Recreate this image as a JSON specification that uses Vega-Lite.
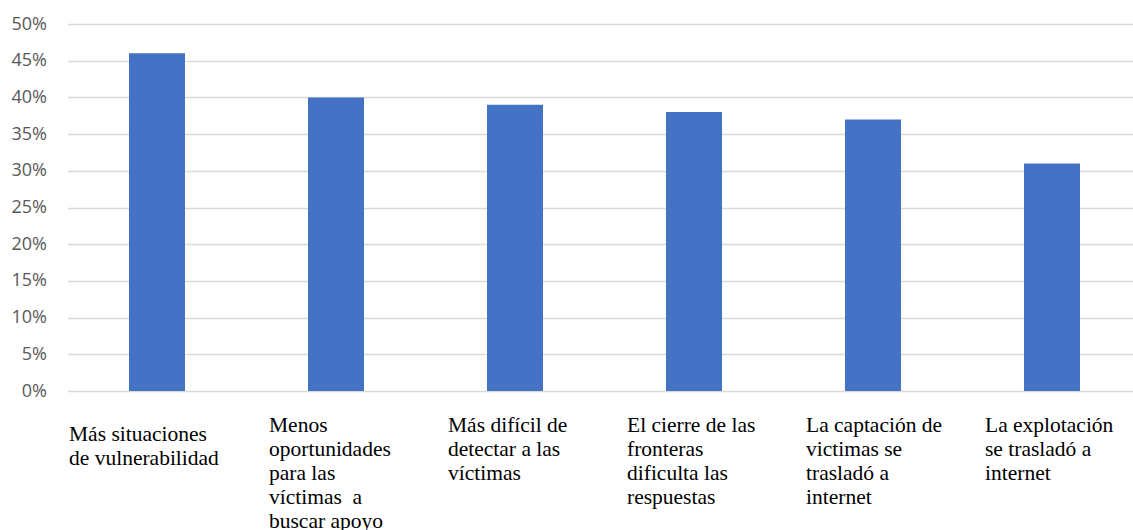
{
  "$schema": "https://vega.github.io/schema/vega-lite/v6.json",
  "autosize": "none",
  "width": 1074,
  "height": 367,
  "padding": {"left": 67.5, "top": 24, "right": 0, "bottom": 139},
  "background": "white",
  "config": {"view": {"stroke": null}},
  "data": {
    "values": [
      {"motivo": "Más situaciones\nde vulnerabilidad", "pct": 0.46},
      {"motivo": "Menos\noportunidades\npara las\nvíctimas\u00a0 a\nbuscar apoyo", "pct": 0.40},
      {"motivo": "Más difícil de\ndetectar a las\nvíctimas", "pct": 0.39},
      {"motivo": "El cierre de las\nfronteras\ndificulta las\nrespuestas", "pct": 0.38},
      {"motivo": "La captación de\nvictimas se\ntrasladó a\ninternet", "pct": 0.37},
      {"motivo": "La explotación\nse trasladó a\ninternet", "pct": 0.31}
    ]
  },
  "mark": {"type": "bar", "color": "#4472C4"},
  "encoding": {
    "x": {
      "field": "motivo",
      "type": "nominal",
      "sort": null,
      "title": null,
      "scale": {"paddingInner": 0.687, "paddingOuter": 0.3435},
      "axis": {
        "domain": false,
        "ticks": false,
        "labelAngle": 0,
        "labelAlign": "left",
        "labelBaseline": "top",
        "labelFont": "Liberation Serif",
        "labelFontSize": 21.5,
        "labelColor": "#000000",
        "labelLineHeight": 24,
        "labelLimit": 0,
        "labelOverlap": false,
        "labelExpr": "split(datum.label, '\\n')",
        "labelOffset": {"condition": {"test": "indexof(datum.value, 'Más situaciones') == 0", "value": -88}, "value": -67},
        "labelPadding": {"condition": {"test": "indexof(datum.value, 'Más situaciones') == 0", "value": 32}, "value": 23}
      }
    },
    "y": {
      "field": "pct",
      "type": "quantitative",
      "title": null,
      "scale": {"domain": [0, 0.5], "nice": false},
      "axis": {
        "values": [0, 0.05, 0.1, 0.15, 0.2, 0.25, 0.3, 0.35, 0.4, 0.45, 0.5],
        "format": ".0%",
        "domain": false,
        "ticks": false,
        "grid": true,
        "gridColor": "#d9d9d9",
        "gridWidth": 1.5,
        "labelFont": "Open Sans",
        "labelFontSize": 18,
        "labelColor": "#595959",
        "labelPadding": 21
      }
    }
  }
}
